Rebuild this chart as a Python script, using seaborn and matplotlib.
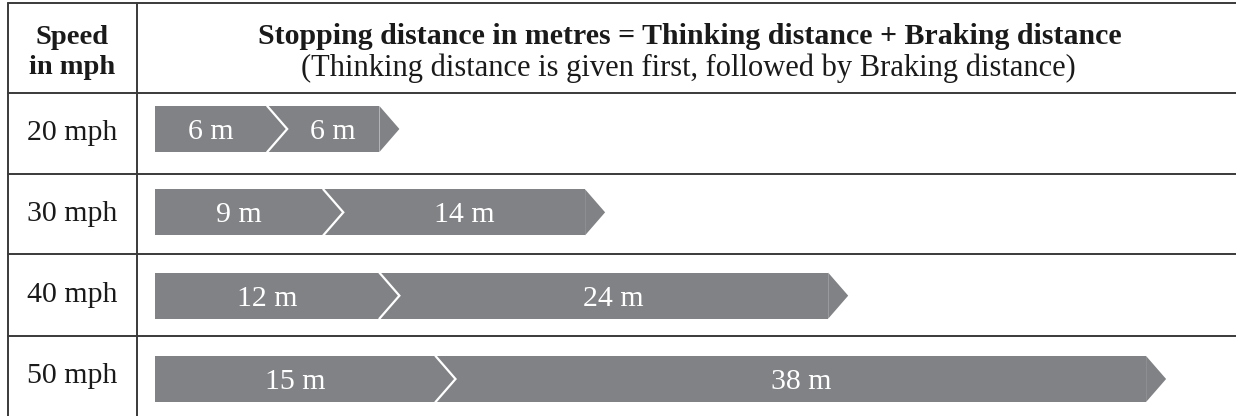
import matplotlib
matplotlib.use("Agg")
import matplotlib.pyplot as plt
import seaborn as sns
import pandas as pd
from matplotlib.lines import Line2D

# %% data
speeds = ["20 mph", "30 mph", "40 mph", "50 mph"]
thinking = [6, 9, 12, 15]
braking = [6, 14, 24, 38]

df = pd.DataFrame({"speed": speeds, "thinking": thinking, "braking": braking})
df["stopping"] = df["thinking"] + df["braking"]

# %% figure / table frame
sns.set_theme(style="white")
plt.rcParams["font.family"] = ["Liberation Serif", "DejaVu Serif"]

W, H = 1236, 416
fig = plt.figure(figsize=(W / 100, H / 100), dpi=100)
fig.patch.set_facecolor("white")


def fx(x):
    return x / W


def fy(y):
    return 1 - y / H


grey = "#808285"
line_col = "#3a3a3a"
txt_col = "#1a1a1a"
fs = 21.5

for y in [3, 93, 174, 254, 336]:
    fig.add_artist(Line2D([fx(8), 1], [fy(y), fy(y)], color=line_col, lw=1.4))
for x in [8, 137]:
    fig.add_artist(Line2D([fx(x), fx(x)], [fy(3), 0], color=line_col, lw=1.4))

fig.text(fx(72), fy(37), "Speed", ha="center", va="center", fontsize=20.5, fontweight="bold", color=txt_col)
fig.text(fx(72), fy(68), "in mph", ha="center", va="center", fontsize=20.5, fontweight="bold", color=txt_col)
fig.text(fx(690), fy(37), "Stopping distance in metres = Thinking distance + Braking distance",
         ha="center", va="center", fontsize=fs, fontweight="bold", color=txt_col)
fig.text(fx(688), fy(68), "(Thinking distance is given first, followed by Braking distance)",
         ha="center", va="center", fontsize=22, color=txt_col)

row_mid = [133, 214, 295, 376]
for lab, y in zip(speeds, row_mid):
    fig.text(fx(72), fy(y), lab, ha="center", va="center", fontsize=fs, color=txt_col)

# %% bars
px_per_m = 18.7
ax = fig.add_axes([fx(137), fy(416), fx(1236) - fx(137), fy(93) - fy(416)])
bar_h = 0.552
sns.barplot(data=df, x="stopping", y="speed", orient="h", color=grey,
            saturation=1, width=bar_h, linewidth=0, ax=ax)
ax.set_xlim(-(155 - 137) / px_per_m, (1236 - 155) / px_per_m)
ax.set_ylim(3.444, -0.432)
ax.axis("off")

tip = 20 / px_per_m
half = bar_h / 2
for i, row in df.iterrows():
    end = row["stopping"]
    t = row["thinking"]
    ax.fill([end, end + tip, end], [i - half, i, i + half], color=grey, lw=0)
    ax.plot([t, t + tip, t], [i + half, i, i - half], color="white", lw=1.6,
            solid_joinstyle="miter")
    ax.text(t / 2, i, f"{t} m", ha="center", va="center_baseline", fontsize=fs, color="white")
    ax.text((t + end) / 2 + tip / 2, i, f"{row['braking']} m", ha="center",
            va="center_baseline", fontsize=fs, color="white")

fig.savefig("out.png", dpi=100, facecolor="white")
